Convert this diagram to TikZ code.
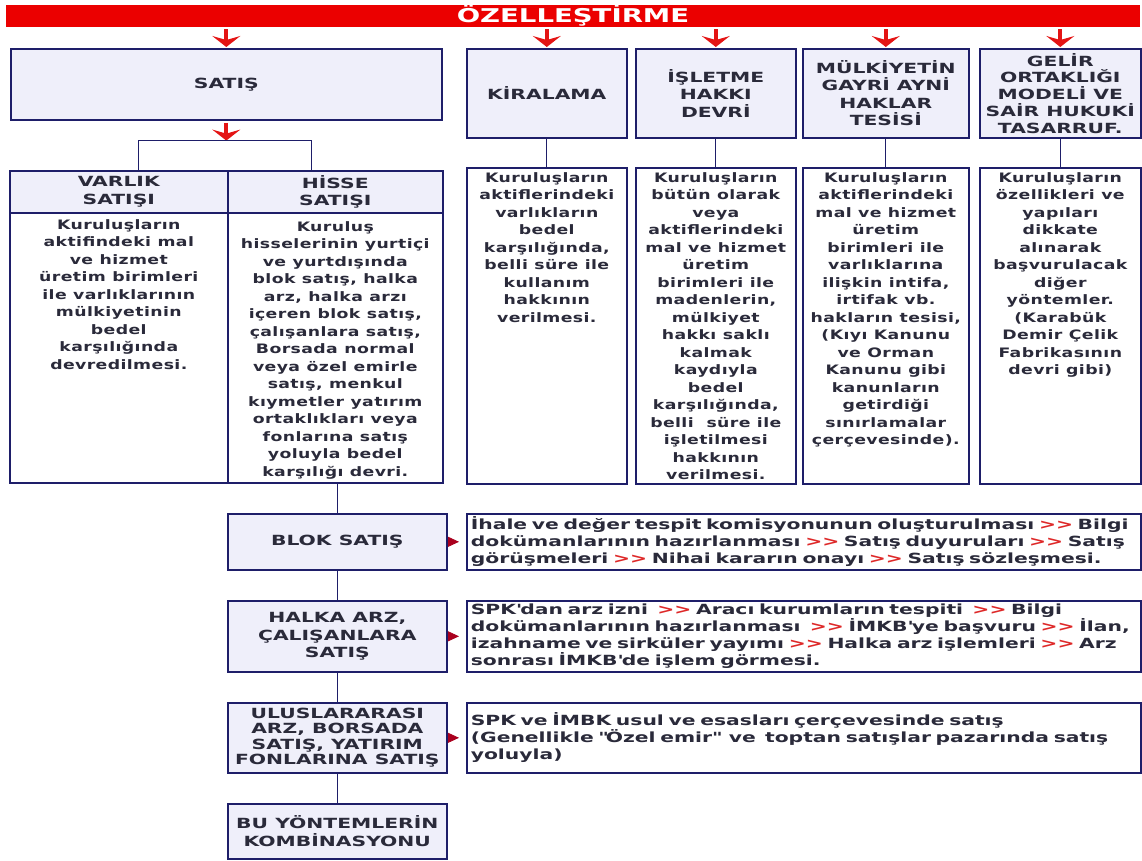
\documentclass[tikz,border=0pt]{standalone}
\usepackage{fontspec}
\setmainfont[FakeStretch=1.45]{DejaVu Sans}
\newfontfamily\bodyfont[FakeStretch=1.33,LetterSpace=3]{DejaVu Sans}
\usetikzlibrary{arrows.meta, positioning}
\definecolor{ozred}{RGB}{235,0,0}
\definecolor{arrred}{RGB}{228,20,20}
\definecolor{sepred}{RGB}{222,40,40}
\definecolor{tipred}{RGB}{170,0,30}
\definecolor{boxline}{RGB}{30,30,105}
\definecolor{boxfill}{RGB}{239,239,250}
\definecolor{txtgray}{RGB}{42,42,58}
\newcommand{\redgt}{\textcolor{sepred}{>\kern0pt>}}

\tikzset{
  banner/.style={fill=ozred, minimum width=1134, minimum height=22, inner sep=0pt,
    text=white, font=\bfseries\fontsize{19}{19}\selectfont},
  hdrbox/.style={draw=boxline, line width=1.6pt, fill=boxfill, anchor=north west,
    inner sep=2pt, align=center, text=txtgray, font=\bfseries\fontsize{14}{17.5}\selectfont},
  bodybox/.style={draw=boxline, line width=1.6pt, fill=white, anchor=north west},
  bodytxt/.style={anchor=north, align=center, inner sep=0pt, text=txtgray,
    font=\bodyfont\bfseries\fontsize{13}{17.5}\selectfont},
  descbox/.style={draw=boxline, line width=1.6pt, fill=white, anchor=north west,
    minimum width=674, text width=666, inner xsep=4pt, inner ysep=1pt, align=left,
    text=txtgray, font=\bfseries\fontsize{14}{17}\selectfont},
  conn/.style={draw=boxline, line width=1.3pt},
  downarrow/.style={draw=arrred, line width=4pt, shorten <=2pt, shorten >=1pt,
    -{Stealth[length=11pt,width=28pt,inset=4pt]}},
  tiparrow/.style={draw=tipred, line width=0.8pt, shorten >=7pt,
    -{Triangle[length=11pt,width=10pt]}}
}

\begin{document}
\begin{tikzpicture}[x=1pt,y=-1pt]
    \useasboundingbox (0,0) rectangle (1142,860);

    % Banner
    \node[banner] (ozel) at (573,16) {ÖZELLEŞTİRME};

    % First row of methods
    \node[hdrbox, minimum width=431, minimum height=71] (satis) at (10,48) {SATIŞ};
    \node[hdrbox, minimum width=160, minimum height=89] (kira) at (466,48) {KİRALAMA};
    \node[hdrbox, minimum width=160, minimum height=89] (isl) at (635,48) {İŞLETME\\HAKKI\\DEVRİ};
    \node[hdrbox, minimum width=166, minimum height=89] (mulk) at (802,48) {MÜLKİYETİN\\GAYRİ AYNİ\\HAKLAR\\TESİSİ};
    \node[hdrbox, minimum width=161, minimum height=89, font=\bfseries\fontsize{14}{16.8}\selectfont] (gelir) at (979,48) {GELİR\\ORTAKLIĞI\\MODELİ VE\\SAİR HUKUKİ\\TASARRUF.};

    % Arrows from banner
    \foreach \b in {satis,kira,isl,mulk,gelir} {
        \draw[downarrow] (ozel.south -| \b.north) -- (\b.north);
    }

    % Bodies of the four columns
    \node[bodybox, minimum width=160, minimum height=316] (kira-b) at (466,167) {};
    \node[bodybox, minimum width=160, minimum height=316] (isl-b) at (635,167) {};
    \node[bodybox, minimum width=166, minimum height=316] (mulk-b) at (802,167) {};
    \node[bodybox, minimum width=161, minimum height=316] (gelir-b) at (979,167) {};
    \foreach \c in {kira,isl,mulk,gelir} {
        \draw[conn] (\c.south) -- (\c-b.north);
    }

    \node[bodytxt] (kira-t) at ([yshift=-5pt]kira-b.north) {Kuruluşların\\aktiflerindeki\\varlıkların\\bedel\\karşılığında,\\belli süre ile\\kullanım\\hakkının\\verilmesi.};
    \node[bodytxt] (isl-t) at ([yshift=-5pt]isl-b.north) {Kuruluşların\\bütün olarak\\veya\\aktiflerindeki\\mal ve hizmet\\üretim\\birimleri ile\\madenlerin,\\mülkiyet\\hakkı saklı\\kalmak\\kaydıyla\\bedel\\karşılığında,\\belli\ \ süre ile\\işletilmesi\\hakkının\\verilmesi.};
    \node[bodytxt] (mulk-t) at ([yshift=-5pt]mulk-b.north) {Kuruluşların\\aktiflerindeki\\mal ve hizmet\\üretim\\birimleri ile\\varlıklarına\\ilişkin intifa,\\irtifak vb.\\hakların tesisi,\\(Kıyı Kanunu\\ve Orman\\Kanunu gibi\\kanunların\\getirdiği\\sınırlamalar\\çerçevesinde).};
    \node[bodytxt] (gelir-t) at ([yshift=-5pt]gelir-b.north) {Kuruluşların\\özellikleri ve\\yapıları\\dikkate\\alınarak\\başvurulacak\\diğer\\yöntemler.\\(Karabük\\Demir Çelik\\Fabrikasının\\devri gibi)};

    % Satis: varlik / hisse
    \coordinate (brtop) at ([yshift=-20pt]satis.south);
    \draw[downarrow, shorten >=0pt] (satis.south) -- (brtop);
    \node[hdrbox, minimum width=218, minimum height=42] (varh) at (9,170) {VARLIK\\SATIŞI};
    \node[hdrbox, minimum width=215, minimum height=42] (hisseh) at (227,170) {HİSSE\\SATIŞI};
    \draw[conn] ([xshift=20pt]varh.north) |- (brtop) -| ([xshift=-24pt]hisseh.north);
    \node[bodybox, minimum width=218, minimum height=270] (var-b) at (9,212) {};
    \node[bodybox, minimum width=215, minimum height=270] (hisse-b) at (227,212) {};
    \node[bodytxt] (var-t) at ([yshift=-7pt]var-b.north) {Kuruluşların\\aktifindeki mal\\ve hizmet\\üretim birimleri\\ile varlıklarının\\mülkiyetinin\\bedel\\karşılığında\\devredilmesi.};
    \node[bodytxt] (hisse-t) at ([yshift=-9pt]hisse-b.north) {Kuruluş\\hisselerinin yurtiçi\\ve yurtdışında\\blok satış, halka\\arz, halka arzı\\içeren blok satış,\\çalışanlara satış,\\Borsada normal\\veya özel emirle\\satış, menkul\\kıymetler yatırım\\ortaklıkları veya\\fonlarına satış\\yoluyla bedel\\karşılığı devri.};

    % Share sale routes
    \node[hdrbox, minimum width=219, minimum height=56] (blok) at (227,513) {BLOK SATIŞ};
    \node[hdrbox, minimum width=219, minimum height=71] (halka) at (227,600) {HALKA ARZ,\\ÇALIŞANLARA\\SATIŞ};
    \node[hdrbox, minimum width=219, minimum height=70, font=\bfseries\fontsize{14}{15.5}\selectfont] (ulus) at (227,702) {ULUSLARARASI\\ARZ, BORSADA\\SATIŞ, YATIRIM\\FONLARINA SATIŞ};
    \node[hdrbox, minimum width=219, minimum height=55] (bu) at (227,803) {BU YÖNTEMLERİN\\KOMBİNASYONU};
    \draw[conn] (hisse-b.south -| blok.north) -- (blok.north);
    \draw[conn] (blok) -- (halka);
    \draw[conn] (halka) -- (ulus);
    \draw[conn] (ulus) -- (bu);

    \node[descbox, minimum height=56] (blok-d) at (466,513) {İhale ve değer tespit komisyonunun oluşturulması \redgt{} Bilgi\\dokümanlarının hazırlanması \redgt{} Satış duyuruları \redgt{} Satış\\görüşmeleri \redgt{} Nihai kararın onayı \redgt{} Satış sözleşmesi.};
    \node[descbox, minimum height=71] (halka-d) at (466,600) {SPK\textquotesingle dan arz izni\ \ \redgt{} Aracı kurumların tespiti\ \ \redgt{} Bilgi\\dokümanlarının hazırlanması\ \ \redgt{} İMKB\textquotesingle ye başvuru \redgt{} İlan,\\izahname ve sirküler yayımı \redgt{} Halka arz işlemleri \redgt{} Arz\\sonrası İMKB\textquotesingle de işlem görmesi.};
    \node[descbox, minimum height=70] (ulus-d) at (466,702) {SPK ve İMBK usul ve esasları çerçevesinde satış\\(Genellikle \textquotedbl Özel emir\textquotedbl\ \ ve\ \ toptan satışlar pazarında satış\\yoluyla)};
    \foreach \r in {blok,halka,ulus} {
        \draw[tiparrow] (\r.east) -- (\r-d.west);
    }

\end{tikzpicture}
\end{document}
